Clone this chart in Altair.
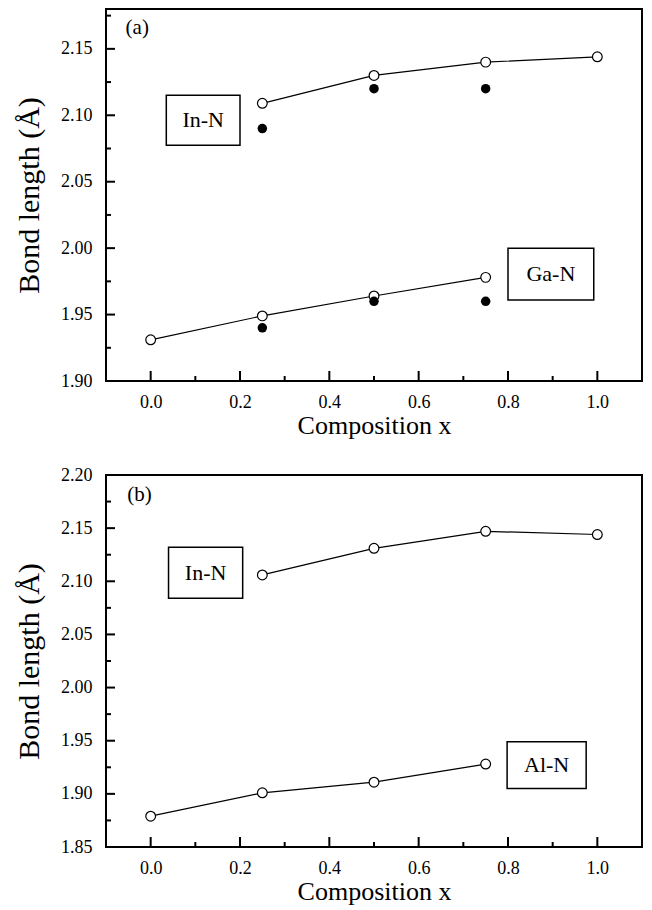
import altair as alt
import pandas as pd

FONT = "Liberation Serif"

# ---------------- data: panel (a) ----------------
a_in_x = [0.25, 0.5, 0.75, 1.0]
a_in_open = [2.109, 2.130, 2.140, 2.144]
a_in_fx = [0.25, 0.5, 0.75]
a_in_filled = [2.090, 2.120, 2.120]
a_ga_x = [0.0, 0.25, 0.5, 0.75]
a_ga_open = [1.931, 1.949, 1.964, 1.978]
a_ga_fx = [0.25, 0.5, 0.75]
a_ga_filled = [1.940, 1.960, 1.960]

# ---------------- data: panel (b) ----------------
b_in_x = [0.25, 0.5, 0.75, 1.0]
b_in_open = [2.106, 2.131, 2.147, 2.144]
b_al_x = [0.0, 0.25, 0.5, 0.75]
b_al_open = [1.879, 1.901, 1.911, 1.928]

# label boxes: text, x0, x1, y0, y1
a_labels = ["In-N", "Ga-N"]
a_box_x0 = [0.035, 0.80]
a_box_x1 = [0.200, 0.992]
a_box_y0 = [2.0775, 1.961]
a_box_y1 = [2.115, 2.000]

b_labels = ["In-N", "Al-N"]
b_box_x0 = [0.040, 0.798]
b_box_x1 = [0.206, 0.975]
b_box_y0 = [2.084, 1.905]
b_box_y1 = [2.132, 1.949]

x_major = [0.0, 0.2, 0.4, 0.6, 0.8, 1.0]
x_minor = [0.1, 0.3, 0.5, 0.7, 0.9]
a_y_major = [1.90, 1.95, 2.00, 2.05, 2.10, 2.15]
a_y_minor = [1.925, 1.975, 2.025, 2.075, 2.125, 2.175]
b_y_major = [1.85, 1.90, 1.95, 2.00, 2.05, 2.10, 2.15, 2.20]
b_y_minor = [1.875, 1.925, 1.975, 2.025, 2.075, 2.125, 2.175]

W = 536
H = 372


def panel(open_series, filled_series, labels, box_x0, box_x1, box_y0, box_y1,
          ydom, ymaj, ymin, letter, letter_x, letter_y):
    xs = alt.Scale(domain=[-0.1, 1.1], nice=False, zero=False)
    ys = alt.Scale(domain=ydom, nice=False, zero=False)
    rows = []
    for name, xv, yv in open_series:
        for xi, yi in zip(xv, yv):
            rows.append({"series": name, "x": xi, "y": yi})
    df_open = pd.DataFrame(rows)
    rows = []
    for name, xv, yv in filled_series:
        for xi, yi in zip(xv, yv):
            rows.append({"series": name, "x": xi, "y": yi})

    X = alt.X("x:Q", scale=xs,
              axis=alt.Axis(values=x_major, format=".1f", ticks=False, domain=False,
                            grid=False, title="Composition x", labelFont=FONT,
                            labelFontSize=18, labelPadding=12, titleFont=FONT,
                            titleFontSize=26, titleFontWeight="normal",
                            titleColor="black", labelColor="black", titlePadding=1))
    Y = alt.Y("y:Q", scale=ys,
              axis=alt.Axis(values=ymaj, format=".2f", ticks=False, domain=False,
                            grid=False, title="Bond length (Å)", labelFont=FONT,
                            labelFontSize=18, labelPadding=14, titleFont=FONT,
                            titleFontSize=30, titleFontWeight="normal",
                            titleColor="black", labelColor="black", titlePadding=16))

    line = alt.Chart(df_open).mark_line(color="black", strokeWidth=1.2).encode(
        x=X, y=Y, detail="series:N")
    pts = alt.Chart(df_open).mark_point(shape="circle", size=95, filled=True,
                                        fill="white", stroke="black",
                                        strokeWidth=1.2, opacity=1).encode(
        x=alt.X("x:Q", scale=xs), y=alt.Y("y:Q", scale=ys))
    layers = [line, pts]
    if rows:
        df_fill = pd.DataFrame(rows)
        fpts = alt.Chart(df_fill).mark_circle(size=90, color="black", opacity=1).encode(
            x=alt.X("x:Q", scale=xs), y=alt.Y("y:Q", scale=ys))
        layers.append(fpts)

    df_box = pd.DataFrame({"label": labels, "x0": box_x0, "x1": box_x1,
                           "y0": box_y0, "y1": box_y1})
    df_box["xc"] = (df_box.x0 + df_box.x1) / 2
    df_box["yc"] = (df_box.y0 + df_box.y1) / 2
    box = alt.Chart(df_box).mark_rect(fill="white", stroke="black", strokeWidth=1.5).encode(
        x=alt.X("x0:Q", scale=xs), x2="x1:Q", y=alt.Y("y0:Q", scale=ys), y2="y1:Q")
    txt = alt.Chart(df_box).mark_text(font=FONT, fontSize=22, color="black").encode(
        x=alt.X("xc:Q", scale=xs), y=alt.Y("yc:Q", scale=ys), text="label:N")
    layers += [box, txt]

    df_let = pd.DataFrame({"t": [letter], "x": [letter_x], "y": [letter_y]})
    let = alt.Chart(df_let).mark_text(font=FONT, fontSize=21, color="black",
                                       align="center").encode(
        x=alt.X("x:Q", scale=xs), y=alt.Y("y:Q", scale=ys), text="t:N")
    layers.append(let)

    # inward ticks
    xt_major = alt.Chart(pd.DataFrame({"v": x_major})).mark_rule(
        color="black", strokeWidth=2).encode(
        x=alt.X("v:Q", scale=xs), y=alt.value(H), y2=alt.value(H - 10))
    xt_minor = alt.Chart(pd.DataFrame({"v": x_minor})).mark_rule(
        color="black", strokeWidth=2).encode(
        x=alt.X("v:Q", scale=xs), y=alt.value(H), y2=alt.value(H - 5))
    yt_major = alt.Chart(pd.DataFrame({"v": ymaj})).mark_rule(
        color="black", strokeWidth=2).encode(
        y=alt.Y("v:Q", scale=ys), x=alt.value(0), x2=alt.value(9))
    yt_minor = alt.Chart(pd.DataFrame({"v": ymin})).mark_rule(
        color="black", strokeWidth=2).encode(
        y=alt.Y("v:Q", scale=ys), x=alt.value(0), x2=alt.value(5))
    layers += [xt_major, xt_minor, yt_major, yt_minor]

    return alt.layer(*layers).properties(width=W, height=H)


pa = panel([("In-N", a_in_x, a_in_open), ("Ga-N", a_ga_x, a_ga_open)],
           [("In-N", a_in_fx, a_in_filled), ("Ga-N", a_ga_fx, a_ga_filled)],
           a_labels, a_box_x0, a_box_x1, a_box_y0, a_box_y1,
           [1.90, 2.18], a_y_major, a_y_minor, "(a)", -0.03, 2.166)
pb = panel([("In-N", b_in_x, b_in_open), ("Al-N", b_al_x, b_al_open)],
           [],
           b_labels, b_box_x0, b_box_x1, b_box_y0, b_box_y1,
           [1.85, 2.20], b_y_major, b_y_minor, "(b)", -0.025, 2.181)

chart = alt.vconcat(pa, pb, spacing=26).properties(
    padding={"left": 5, "top": 0, "right": 0, "bottom": 0}
).configure(font=FONT, background="white").configure_view(
    stroke="black", strokeWidth=2)

chart.save("out.html", embed_options={"renderer": "svg", "actions": False})
